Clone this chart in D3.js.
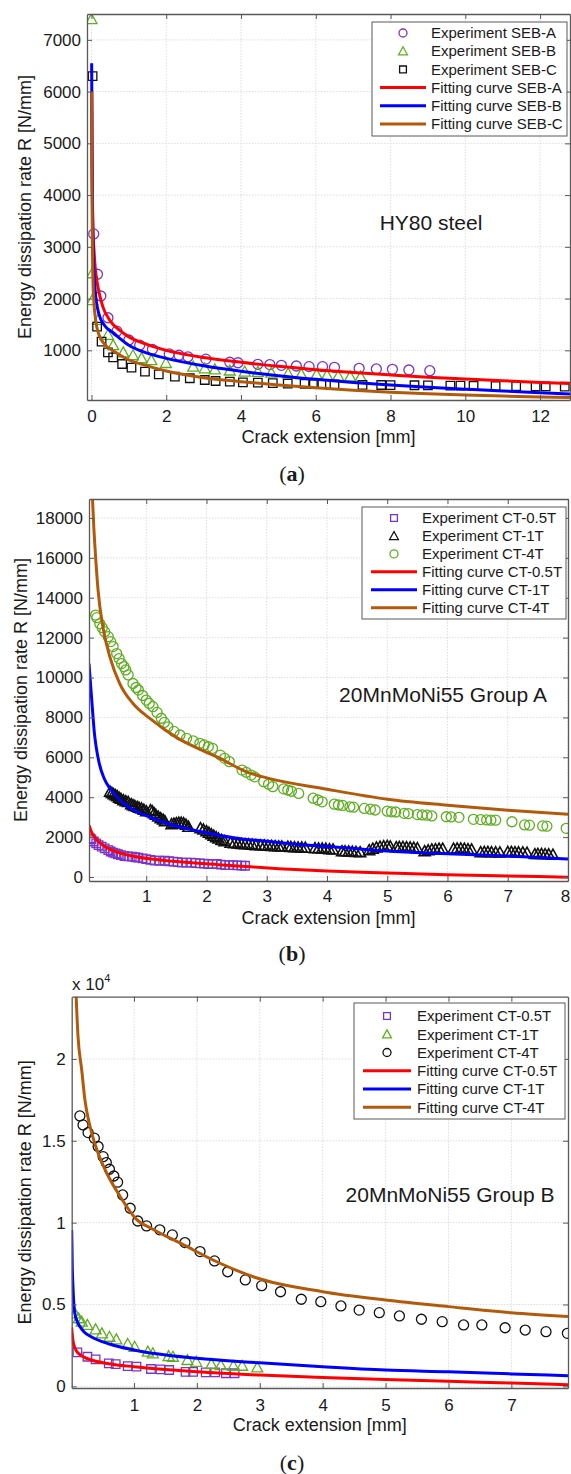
<!DOCTYPE html>
<html>
<head>
<meta charset="utf-8">
<script src="https://cdn.jsdelivr.net/npm/d3@7"></script>
<style>
  body { margin: 0; background: #fff; }
  svg { display: block; }
  text { font-family: "Liberation Sans", Arial, sans-serif; fill: #1a1a1a; }
</style>
</head>
<body>
<svg width="571" height="1474"></svg>
<script>
// --- Data: panel (a) HY80 steel ---
const a_ticksX = [0, 2, 4, 6, 8, 10, 12];
const a_ticksY = [1000, 2000, 3000, 4000, 5000, 6000, 7000];
const a_expA = [[0.06,3250],[0.16,2470],[0.25,2050],[0.44,1630],[0.68,1370],[1.0,1200],[1.29,1100],[1.63,1020],[2.08,930],[2.34,905],[2.58,875],[3.06,830],[3.7,770],[3.92,760],[4.45,730],[4.77,725],[5.08,710],[5.48,697],[5.82,685],[6.18,684],[6.5,672],[7.16,653],[7.62,640],[8.05,633],[8.49,620],[9.05,606]];
const a_expB = [[0.0,7400],[0.02,2490],[0.02,1970],[0.18,1590],[0.44,1300],[0.58,1100],[0.85,960],[1.11,905],[1.34,850],[1.6,810],[1.99,755],[2.72,684],[3.03,653],[3.3,633],[3.7,610],[4.1,590],[4.45,585],[4.81,568],[5.26,552],[5.61,540],[6.02,535],[6.3,520],[6.6,505],[6.92,495],[7.2,490]];
const a_expC = [[0.03,6300],[0.15,1457],[0.27,1167],[0.44,962],[0.58,865],[0.82,736],[1.07,664],[1.43,587],[1.8,536],[2.23,490],[2.63,460],[3.03,427],[3.32,407],[3.7,394],[4.05,382],[4.45,375],[4.85,365],[5.25,358],[5.7,350],[5.95,347],[6.15,345],[6.5,340],[7.25,333],[7.75,330],[8.0,328],[8.64,325],[9.0,322],[9.6,318],[9.87,316],[10.22,313],[10.81,310],[11.36,307],[11.88,305],[12.15,303],[12.66,300]];
const a_fitA = [[0.005,6000],[0.02,4300],[0.04,3400],[0.07,2900],[0.1,2600],[0.18,2200],[0.3,1850],[0.5,1570],[0.75,1390],[1,1260],[1.5,1110],[2,1000],[3,860],[4,769],[5,690],[6,625],[7,570],[8,524],[9,482],[10,445],[11,411],[12,380],[12.8,357]];
const a_fitB = [[0.005,6550],[0.015,4800],[0.03,3500],[0.05,2800],[0.1,2150],[0.2,1700],[0.35,1480],[0.58,1340],[1,1100],[1.47,950],[2,845],[3,700],[4,595],[5,510],[6,440],[7,380],[8,330],[9,288],[10,250],[11,214],[12,182],[12.8,158]];
const a_fitC = [[0.005,6000],[0.012,4300],[0.025,3000],[0.05,2150],[0.1,1650],[0.2,1300],[0.35,1120],[0.58,990],[1,813],[1.5,700],[2,600],[3,470],[4,394],[5,330],[6,275],[7,230],[8,190],[9,160],[10,135],[11,115],[12,100],[12.8,90]];
const a_names = ["Experiment SEB-A","Experiment SEB-B","Experiment SEB-C","Fitting curve SEB-A","Fitting curve SEB-B","Fitting curve SEB-C"];

// --- Data: panel (b) 20MnMoNi55 Group A ---
const b_ticksX = [1, 2, 3, 4, 5, 6, 7, 8];
const b_ticksY = [0, 2000, 4000, 6000, 8000, 10000, 12000, 14000, 16000, 18000];
const b_exp05 = [[0.07,1940],[0.09,1890],[0.13,1780],[0.17,1690],[0.21,1600],[0.26,1520],[0.31,1440],[0.37,1350],[0.41,1280],[0.45,1220],[0.49,1180],[0.53,1140],[0.58,1100],[0.64,1050],[0.7,1035],[0.76,1020],[0.82,990],[0.87,970],[0.94,935],[1.0,900],[1.07,860],[1.14,820],[1.22,815],[1.31,815],[1.38,790],[1.45,770],[1.52,745],[1.59,720],[1.67,718],[1.75,718],[1.82,700],[1.89,685],[1.96,670],[2.03,652],[2.1,652],[2.17,652],[2.24,625],[2.31,600],[2.38,600],[2.44,600],[2.51,585],[2.58,570],[2.64,565]];
const b_exp1 = [[0.40,4280],[0.43,4220],[0.46,4150],[0.49,4100],[0.52,4050],[0.55,3980],[0.58,3920],[0.62,3850],[0.66,3800],[0.70,3760],
  [0.75,3650],[0.78,3600],[0.81,3560],[0.85,3520],[0.88,3480],[0.92,3440],[0.96,3380],[1.0,3300],
  [1.07,3350],[1.1,3300],[1.13,3200],[1.16,3120],[1.2,3030],[1.24,2950],[1.28,2880],[1.31,2800],
  [1.42,2650],[1.46,2680],[1.5,2700],[1.54,2720],[1.58,2720],[1.62,2700],[1.66,2620],[1.7,2520],
  [1.9,2450],[1.95,2380],[2.0,2300],[2.04,2220],[2.08,2150],[2.12,2070],[2.16,2000],[2.2,1930],[2.25,1860],[2.3,1800],
  [2.4,1720],[2.46,1700],[2.52,1680],[2.58,1660],[2.64,1650],[2.7,1640],[2.76,1620],[2.82,1600],
  [2.9,1590],[2.96,1580],[3.02,1570],[3.08,1560],[3.14,1550],[3.2,1540],[3.25,1530],
  [3.35,1520],[3.4,1510],[3.46,1500],[3.52,1490],[3.58,1480],[3.64,1470],
  [3.8,1450],[3.86,1440],[3.92,1430],[3.98,1420],[4.04,1400],[4.1,1380],
  [4.25,1300],[4.3,1290],[4.36,1280],[4.42,1270],[4.48,1260],[4.55,1250],
  [4.7,1350],[4.76,1420],[4.82,1480],[4.88,1520],[4.94,1550],[5.0,1560],[5.05,1540],
  [5.15,1500],[5.2,1510],[5.26,1510],[5.32,1500],[5.38,1490],[5.44,1470],[5.5,1450],
  [5.62,1300],[5.68,1340],[5.74,1380],[5.8,1400],[5.86,1420],[5.92,1420],
  [6.1,1420],[6.16,1430],[6.22,1430],[6.28,1420],[6.34,1400],[6.4,1380],
  [6.55,1250],[6.61,1260],[6.67,1260],[6.73,1250],[6.8,1240],[6.87,1230],
  [7.0,1260],[7.06,1260],[7.12,1250],[7.18,1240],[7.25,1230],[7.32,1220],
  [7.45,1150],[7.5,1160],[7.56,1160],[7.62,1150],[7.68,1140],[7.75,1120]];
const b_exp4 = [[0.16,13130],[0.18,13000],[0.23,12700],[0.27,12500],[0.31,12300],[0.37,12050],[0.41,11800],[0.45,11550],[0.51,11200],[0.55,10950],[0.59,10700],[0.63,10550],[0.66,10380],[0.7,10130],[0.78,9700],[0.83,9500],[0.87,9370],[0.94,9100],[1.0,8870],[1.05,8700],[1.11,8540],[1.18,8250],[1.25,7960],[1.3,7750],[1.36,7530],[1.46,7300],[1.56,7120],[1.67,6950],[1.78,6820],[1.89,6700],[1.96,6620],[2.03,6530],[2.1,6450],[2.23,6110],[2.3,5950],[2.38,5780],[2.59,5360],[2.66,5250],[2.74,5110],[2.8,5020],[2.95,4780],[3.03,4650],[3.1,4530],[3.28,4420],[3.35,4360],[3.41,4300],[3.53,4190],[3.77,3950],[3.85,3860],[3.92,3770],[4.12,3650],[4.19,3610],[4.26,3590],[4.38,3520],[4.44,3500],[4.62,3440],[4.72,3400],[4.8,3360],[5.0,3300],[5.07,3270],[5.14,3260],[5.28,3190],[5.35,3180],[5.5,3130],[5.58,3110],[5.66,3100],[5.74,3060],[5.98,3020],[6.06,3010],[6.19,2990],[6.43,2890],[6.55,2880],[6.65,2860],[6.72,2850],[6.8,2850],[7.07,2770],[7.28,2610],[7.36,2600],[7.58,2560],[7.65,2550],[7.97,2440]];
const b_fit05 = [[0.05,2600],[0.1,2200],[0.18,1860],[0.3,1550],[0.42,1360],[0.6,1170],[0.81,1030],[1.2,860],[1.64,740],[2.2,620],[2.64,530],[3.2,420],[4,300],[5,200],[6,110],[7,50],[8,-10]];
const b_fit1 = [[0.05,10700],[0.08,9500],[0.11,8300],[0.14,7200],[0.17,6500],[0.22,5700],[0.3,4950],[0.42,4350],[0.55,3900],[0.7,3520],[0.98,3100],[1.42,2620],[1.92,2270],[2.47,1960],[3.03,1780],[3.58,1620],[4.3,1470],[5,1300],[6,1170],[7,1050],[8,900]];
const b_fit4 = [[0.1,19500],[0.13,17500],[0.15,16500],[0.2,14400],[0.28,12550],[0.4,11000],[0.56,9700],[0.78,8700],[1.06,7950],[1.5,7000],[1.89,6400],[2.2,5980],[2.68,5250],[3,4970],[4,4400],[5,3900],[6,3600],[7,3350],[8,3150]];
const b_names = ["Experiment CT-0.5T","Experiment CT-1T","Experiment CT-4T","Fitting curve CT-0.5T","Fitting curve CT-1T","Fitting curve CT-4T"];

// --- Data: panel (c) 20MnMoNi55 Group B ---
const c_ticksX = [1, 2, 3, 4, 5, 6, 7];
const c_ticksY = [0, 5000, 10000, 15000, 20000];
const c_exp05 = [[0.1,2080],[0.26,1810],[0.39,1650],[0.6,1410],[0.71,1360],[0.9,1240],[1.04,1200],[1.27,1060],[1.42,1040],[1.56,1000],[1.82,890],[1.94,890],[2.14,860],[2.29,860],[2.46,800],[2.6,800]];
const c_exp1 = [[0.06,4460],[0.12,4160],[0.17,3950],[0.26,3750],[0.39,3480],[0.49,3240],[0.61,3030],[0.72,2870],[0.9,2590],[1.01,2420],[1.22,2120],[1.3,2020],[1.55,1850],[1.62,1810],[1.85,1610],[1.99,1500],[2.23,1360],[2.38,1300],[2.58,1260],[2.72,1260],[2.96,1160]];
const c_exp4 = [[0.14,16520],[0.19,15970],[0.27,15500],[0.37,15160],[0.43,14650],[0.51,14030],[0.56,13670],[0.61,13260],[0.68,12850],[0.74,12470],[0.82,11690],[0.94,10880],[1.06,10100],[1.2,9800],[1.41,9560],[1.61,9250],[1.81,8780],[2.05,8230],[2.28,7660],[2.49,7000],[2.77,6500],[3.03,6150],[3.33,5780],[3.66,5320],[3.97,5170],[4.29,4910],[4.58,4660],[4.9,4500],[5.22,4300],[5.57,4100],[5.9,3950],[6.24,3750],[6.53,3750],[6.9,3580],[7.22,3440],[7.55,3340],[7.89,3240]];
const c_fit05 = [[0.01,3600],[0.03,2800],[0.045,2520],[0.08,2200],[0.115,2020],[0.2,1800],[0.32,1610],[0.6,1380],[1,1200],[1.5,1030],[2,890],[3,690],[4,540],[5,420],[6,310],[7,200],[7.9,100]];
const c_fit1 = [[0.01,9550],[0.02,7200],[0.03,6100],[0.045,5000],[0.06,4450],[0.1,3950],[0.14,3650],[0.2,3350],[0.32,3030],[0.61,2590],[1,2220],[2,1710],[3,1440],[4,1200],[5,1000],[6,890],[7,760],[7.9,650]];
const c_fit4 = [[0.07,24800],[0.11,21400],[0.17,19300],[0.22,17500],[0.3,15900],[0.41,14450],[0.57,13000],[0.78,11600],[1.04,10200],[1.3,9600],[1.76,8700],[2.35,7550],[2.93,6650],[4,5780],[5,5270],[6,4870],[7,4500],[7.9,4260]];
const c_names = b_names;

// --- Styles ---
const svg = d3.select("svg");
const AXIS = "#595959", GRID = "#d4d4d4";
const PURPLE = "#7a35c8", GREEN = "#5fae22", BLACK = "#111", RED = "#ff0000", BLUE = "#0000ff", BROWN = "#b35a0a";

function shapePath(shape, r) {
  if (shape === "o") return `M${-r},0a${r},${r} 0 1,0 ${2*r},0a${r},${r} 0 1,0 ${-2*r},0`;
  if (shape === "^") return `M0,${-r*1.1}L${r*1.1},${r*0.9}L${-r*1.1},${r*0.9}Z`;
  const h = r * 0.85;
  return `M${-h},${-h}h${2*h}v${2*h}h${-2*h}Z`;
}

// --- Draw one panel ---
function drawPanel(p) {
  const x = d3.scaleLinear().domain(p.xDomain).range([p.left, p.right]);
  const y = d3.scaleLinear().domain(p.yDomain).range([p.bottom, p.top]);
  const g = svg.append("g");

  // grid
  g.append("g").selectAll("line").data(p.xTicks).join("line")
    .attr("x1", d => x(d)).attr("x2", d => x(d)).attr("y1", p.top).attr("y2", p.bottom)
    .attr("stroke", GRID).attr("stroke-width", 0.8).attr("stroke-dasharray", "1.5,1.5");
  g.append("g").selectAll("line").data(p.yTicks).join("line")
    .attr("x1", p.left).attr("x2", p.right).attr("y1", d => y(d)).attr("y2", d => y(d))
    .attr("stroke", GRID).attr("stroke-width", 0.8).attr("stroke-dasharray", "1.5,1.5");

  // clip
  g.append("clipPath").attr("id", "clip-" + p.id).append("rect")
    .attr("x", p.left).attr("y", p.top).attr("width", p.right - p.left).attr("height", p.bottom - p.top);
  const plot = g.append("g").attr("clip-path", `url(#clip-${p.id})`);

  const line = d3.line().x(d => x(d[0])).y(d => y(d[1])).curve(d3.curveMonotoneX);

  p.series.forEach(s => {
    if (s.type === "line") {
      plot.append("path").datum(s.data)
        .attr("d", line).attr("fill", "none")
        .attr("stroke", s.color).attr("stroke-width", 3);
    } else {
      plot.append("g").selectAll("path").data(s.data).join("path")
        .attr("transform", d => `translate(${x(d[0])},${y(d[1])})`)
        .attr("d", shapePath(s.shape, 5))
        .attr("fill", "none").attr("stroke", s.color).attr("stroke-width", s.sw || 1.3);
    }
  });

  // axes (ticks inside on all four sides)
  const styleAxis = sel => {
    sel.select(".domain").attr("stroke", AXIS).attr("stroke-width", 1.3);
    sel.selectAll(".tick line").attr("stroke", AXIS);
    sel.selectAll("text").attr("font-size", 17).attr("fill", "#1a1a1a")
      .attr("font-family", '"Liberation Sans", Arial, sans-serif');
  };
  g.append("g").attr("transform", `translate(0,${p.bottom})`)
    .call(d3.axisBottom(x).tickValues(p.xTicks).tickSize(-5).tickSizeOuter(0).tickPadding(p.xPad))
    .call(styleAxis)
    .call(sel => sel.selectAll(".tick text").attr("dx", d => x(d) > 565 ? -3 : 0));
  g.append("g").attr("transform", `translate(0,${p.top})`)
    .call(d3.axisTop(x).tickValues(p.xTicks).tickSize(-5).tickSizeOuter(0).tickFormat(""))
    .call(styleAxis);
  g.append("g").attr("transform", `translate(${p.left},0)`)
    .call(d3.axisLeft(y).tickValues(p.yTicks).tickSize(-5).tickSizeOuter(0).tickPadding(6).tickFormat(p.yFmt))
    .call(styleAxis);
  g.append("g").attr("transform", `translate(${p.right},0)`)
    .call(d3.axisRight(y).tickValues(p.yTicks).tickSize(-5).tickSizeOuter(0).tickFormat(""))
    .call(styleAxis);

  // axis labels
  g.append("text").attr("x", (p.left + p.right) / 2).attr("y", p.bottom + 42.5)
    .attr("text-anchor", "middle").attr("font-size", 18).text("Crack extension [mm]");
  g.append("text").attr("transform", `translate(${p.yLabelX},${(p.top + p.bottom) / 2}) rotate(-90)`)
    .attr("text-anchor", "middle").attr("dy", "0.35em").attr("font-size", 18)
    .text("Energy dissipation rate R [N/mm]");

  // note
  g.append("text").attr("x", p.note.x).attr("y", p.note.y)
    .attr("text-anchor", "middle").attr("font-size", 21).text(p.note.text);

  // legend
  const L = p.legend;
  const lg = g.append("g");
  lg.append("rect").attr("x", L.x0).attr("y", L.y0).attr("width", L.x1 - L.x0).attr("height", L.y1 - L.y0)
    .attr("fill", "#fff").attr("stroke", AXIS).attr("stroke-width", 1);
  p.series.forEach((s, i) => {
    const yy = L.row0 + i * L.step;
    if (s.type === "line") {
      lg.append("line").attr("x1", L.l0).attr("x2", L.l1).attr("y1", yy).attr("y2", yy)
        .attr("stroke", s.color).attr("stroke-width", 3);
    } else {
      lg.append("path").attr("transform", `translate(${L.mark},${yy})`)
        .attr("d", shapePath(s.shape, 4)).attr("fill", "none")
        .attr("stroke", s.color).attr("stroke-width", 1.3);
    }
    lg.append("text").attr("x", L.tx).attr("y", yy).attr("dy", "0.35em")
      .attr("font-size", 15).text(p.names[i]);
  });

  // caption
  const cap = g.append("text").attr("x", 292).attr("y", p.captionY).attr("text-anchor", "middle")
    .attr("font-size", 22).style("font-family", '"Liberation Serif", "DejaVu Serif", serif');
  cap.append("tspan").text("(");
  cap.append("tspan").attr("font-weight", "bold").text(p.id);
  cap.append("tspan").text(")");

  return { x, y, g };
}

// --- Panels ---
drawPanel({
  id: "a", left: 87, right: 570, top: 14, bottom: 400,
  xDomain: [-0.12, 12.8], yDomain: [40, 7500], xTicks: a_ticksX, yTicks: a_ticksY,
  yFmt: d => d, xPad: 9.7, yLabelX: 25, captionY: 481, names: a_names,
  note: { text: "HY80 steel", x: 431, y: 230 },
  legend: { x0: 372, x1: 567, y0: 22, y1: 136, row0: 33, step: 18.2, mark: 403, l0: 380, l1: 426, tx: 431 },
  series: [
    { type: "marker", shape: "o", color: PURPLE, data: a_expA },
    { type: "marker", shape: "^", color: GREEN, data: a_expB },
    { type: "marker", shape: "s", color: BLACK, data: a_expC },
    { type: "line", color: RED, data: a_fitA },
    { type: "line", color: BLUE, data: a_fitB },
    { type: "line", color: BROWN, data: a_fitC }
  ]
});

drawPanel({
  id: "b", left: 89, right: 568, top: 499, bottom: 881,
  xDomain: [0.05, 8], yDomain: [-200, 18950], xTicks: b_ticksX, yTicks: b_ticksY,
  yFmt: d => d, xPad: 8.7, yLabelX: 21, captionY: 961, names: b_names,
  note: { text: "20MnMoNi55 Group A", x: 443, y: 701.7 },
  legend: { x0: 362, x1: 566, y0: 507, y1: 619, row0: 518, step: 17.95, mark: 394, l0: 371, l1: 417, tx: 422 },
  series: [
    { type: "marker", shape: "s", color: PURPLE, data: b_exp05 },
    { type: "marker", shape: "^", color: BLACK, data: b_exp1, sw: 1.6 },
    { type: "marker", shape: "o", color: GREEN, data: b_exp4 },
    { type: "line", color: RED, data: b_fit05 },
    { type: "line", color: BLUE, data: b_fit1 },
    { type: "line", color: BROWN, data: b_fit4 }
  ]
});

drawPanel({
  id: "c", left: 71.7, right: 568, top: 996.7, bottom: 1388,
  xDomain: [0.01, 7.9], yDomain: [-100, 23800], xTicks: c_ticksX, yTicks: c_ticksY,
  yFmt: d => d / 1e4, xPad: 10.7, yLabelX: 25, captionY: 1470, names: c_names,
  note: { text: "20MnMoNi55 Group B", x: 450, y: 1201.7 },
  legend: { x0: 354, x1: 565, y0: 1003, y1: 1119, row0: 1016, step: 18.25, mark: 387, l0: 363, l1: 411, tx: 417 },
  series: [
    { type: "marker", shape: "s", color: PURPLE, data: c_exp05 },
    { type: "marker", shape: "^", color: GREEN, data: c_exp1 },
    { type: "marker", shape: "o", color: BLACK, data: c_exp4 },
    { type: "line", color: RED, data: c_fit05 },
    { type: "line", color: BLUE, data: c_fit1 },
    { type: "line", color: BROWN, data: c_fit4 }
  ]
});

// exponent label for panel (c)
const expo = svg.append("text").attr("x", 72).attr("y", 990).attr("font-size", 17);
expo.append("tspan").text("x 10");
expo.append("tspan").attr("font-size", 11).attr("dy", -8).text("4");
</script>
</body>
</html>
